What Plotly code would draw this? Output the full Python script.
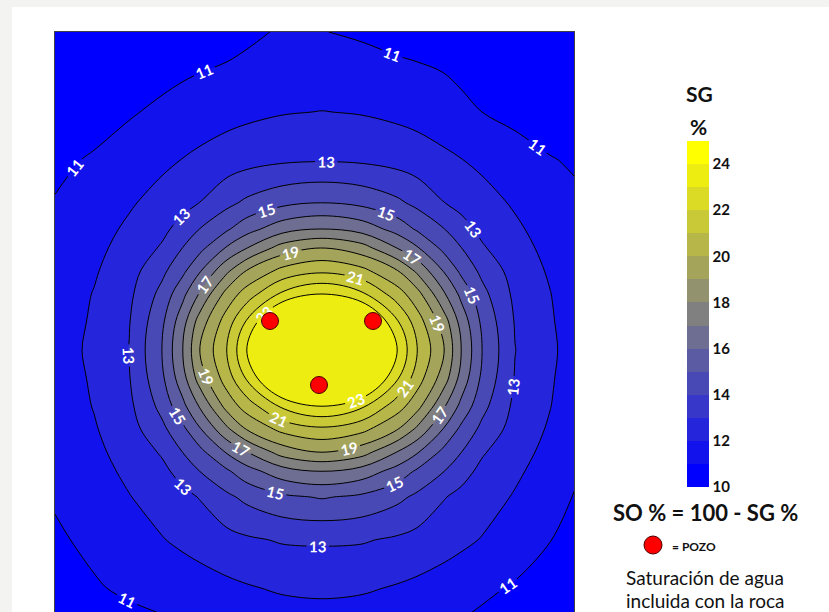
import plotly.graph_objects as go

# ---------------- data ----------------
x_pos = [0, 39, 74, 107, 128, 145, 172, 192, 227, 267, 307, 342, 362, 389, 406, 427, 460, 495, 520]
y_pos = [0, 40, 80, 128, 171, 197, 216, 239, 262, 290, 318, 346, 374, 397, 420, 439, 465, 508, 556, 600]

sg_rows = [
    [9.88, 10.04, 10.21, 10.37, 10.47, 10.54, 10.65, 10.85, 11.08, 11.02, 10.90, 10.71, 10.65, 10.54, 10.47, 10.37, 10.21, 10.04, 9.88],
    [10.12, 10.32, 10.54, 10.75, 10.89, 10.99, 11.12, 11.20, 11.30, 11.35, 11.30, 11.20, 11.12, 10.99, 10.85, 10.65, 10.45, 10.28, 10.10],
    [10.37, 10.61, 10.91, 11.18, 11.35, 11.48, 11.67, 11.78, 11.94, 12.02, 11.94, 11.78, 11.67, 11.42, 11.20, 11.00, 10.75, 10.55, 10.40],
    [10.80, 11.10, 11.42, 11.78, 12.03, 12.21, 12.48, 12.66, 12.85, 12.92, 12.85, 12.66, 12.48, 12.21, 12.03, 11.78, 11.39, 11.05, 10.90],
    [11.05, 11.40, 11.88, 12.38, 12.72, 13.02, 13.75, 14.21, 14.76, 15.02, 14.76, 14.21, 13.75, 13.02, 12.72, 12.38, 11.88, 11.40, 11.15],
    [11.20, 11.60, 12.17, 12.77, 13.36, 14.02, 14.87, 15.62, 16.59, 17.02, 16.59, 15.62, 14.87, 14.02, 13.36, 12.77, 12.17, 11.57, 11.20],
    [11.26, 11.75, 12.36, 13.11, 14.03, 14.72, 16.11, 16.99, 18.43, 19.02, 18.43, 16.99, 16.11, 14.72, 14.03, 13.11, 12.36, 11.73, 11.25],
    [11.36, 11.90, 12.59, 13.76, 14.79, 15.93, 17.82, 19.08, 20.30, 20.82, 20.30, 19.08, 17.82, 15.93, 14.79, 13.76, 12.59, 11.89, 11.33],
    [11.44, 12.04, 12.78, 14.31, 15.75, 17.12, 19.38, 20.48, 22.18, 23.02, 22.18, 20.48, 19.38, 17.12, 15.75, 14.31, 12.78, 12.03, 11.42],
    [11.50, 12.12, 12.94, 14.81, 16.66, 18.49, 20.51, 22.15, 25.02, 26.75, 25.02, 22.15, 20.51, 18.49, 16.66, 14.81, 12.94, 12.12, 11.49],
    [11.57, 12.19, 13.02, 15.02, 17.02, 19.02, 21.02, 23.02, 26.50, 30.50, 26.50, 23.02, 21.02, 19.02, 17.02, 15.02, 13.02, 12.19, 11.57],
    [11.50, 12.12, 12.94, 14.81, 16.66, 18.49, 20.51, 22.15, 25.02, 26.75, 25.02, 22.15, 20.51, 18.49, 16.66, 14.81, 12.94, 12.12, 11.49],
    [11.44, 12.04, 12.78, 14.31, 15.75, 17.12, 19.38, 20.48, 22.18, 23.02, 22.18, 20.48, 19.38, 17.12, 15.75, 14.31, 12.78, 12.03, 11.42],
    [11.38, 11.92, 12.59, 13.76, 14.79, 15.93, 17.82, 19.08, 20.30, 20.82, 20.30, 19.08, 17.82, 15.93, 14.79, 13.76, 12.59, 11.89, 11.33],
    [11.30, 11.78, 12.38, 13.11, 14.03, 14.72, 16.11, 16.99, 18.43, 19.02, 18.43, 16.99, 16.11, 14.72, 14.03, 13.11, 12.36, 11.73, 11.21],
    [11.22, 11.65, 12.20, 12.77, 13.36, 14.02, 14.87, 15.62, 16.59, 17.02, 16.59, 15.62, 14.87, 14.02, 13.36, 12.77, 12.17, 11.57, 11.11],
    [11.08, 11.48, 11.96, 12.42, 12.76, 13.05, 13.80, 14.25, 14.80, 15.08, 14.80, 14.25, 13.80, 13.05, 12.76, 12.42, 11.92, 11.36, 10.95],
    [10.88, 11.18, 11.56, 11.95, 12.20, 12.40, 12.68, 12.86, 13.08, 13.12, 13.08, 12.86, 12.68, 12.40, 12.20, 11.95, 11.50, 11.02, 10.68],
    [10.62, 10.92, 11.14, 11.30, 11.42, 11.55, 11.78, 11.92, 12.12, 12.20, 12.12, 11.92, 11.78, 11.55, 11.40, 11.18, 10.91, 10.61, 10.37],
    [10.25, 10.48, 10.66, 10.80, 10.90, 10.99, 11.12, 11.22, 11.32, 11.38, 11.32, 11.22, 11.12, 10.97, 10.85, 10.71, 10.50, 10.28, 10.08],
]

wells_x = [215, 318, 264]
wells_y = [289, 289, 353]

level_min, level_max = 10, 25
odd_line_range = (11, 23)
even_line_range = (12, 22)
cbar_ticks = [10, 12, 14, 16, 18, 20, 22, 24]

# ---------------- styling ----------------
W, H = 829, 612
ML, MR, MT, MB = 55, 255, 32, 0
PW, PH = W - ML - MR, H - MT - MB

def px(x):
    return (x - ML) / PW

def py(y):
    return (H - MB - y) / PH

stops = [(0.0, (0, 0, 255)), (0.5, (128, 128, 128)), (1.0, (255, 255, 0))]

def col(t):
    for (t0, c0), (t1, c1) in zip(stops[:-1], stops[1:]):
        if t <= t1:
            f = (t - t0) / (t1 - t0)
            return "rgb(%d,%d,%d)" % tuple(round(a + (b - a) * f) for a, b in zip(c0, c1))
    return "rgb(255,255,0)"

n_bands = level_max - level_min  # 15 bands 10..25
band_cols = [col(k / (n_bands - 1)) for k in range(n_bands)]
# fill trace: levels 11..23, 14 regions (everything above 23 gets the 23-24 colour)
fill_scale = [[k / (n_bands - 2), band_cols[k]] for k in range(n_bands - 1)]
# stepped scale for the colour key
key_scale = []
for k in range(n_bands):
    key_scale.append([k / n_bands, band_cols[k]])
    key_scale.append([(k + 1) / n_bands, band_cols[k]])

FONT = "Lato"
INK = "#111111"

fig = go.Figure()

fig.add_trace(go.Contour(
    x=x_pos, y=y_pos, z=sg_rows,
    contours=dict(start=11, end=23, size=1, coloring="fill", showlines=False),
    colorscale=fill_scale, showscale=False, hoverinfo="skip",
    line=dict(width=0),
))

fig.add_trace(go.Contour(
    x=x_pos, y=y_pos, z=sg_rows,
    contours=dict(start=even_line_range[0], end=even_line_range[1], size=2, coloring="none"),
    line=dict(color="black", width=1), showscale=False, hoverinfo="skip",
))

# odd (labelled) lines; the level list is extended downward (levels below the data
# produce no lines) so that plotly places several labels along each line
fig.add_trace(go.Contour(
    x=x_pos, y=y_pos, z=sg_rows,
    contours=dict(start=odd_line_range[0] - 2 * 150, end=odd_line_range[1], size=2, coloring="none",
                  showlabels=True,
                  labelfont=dict(color="white", size=15, family=FONT, weight="bold")),
    line=dict(color="black", width=1), showscale=False, hoverinfo="skip",
))

# colour key (full 10-25 scale), drawn from an off-screen heatmap
fig.add_trace(go.Heatmap(
    x=[-2000, -1990], y=[-2000, -1990], z=[[level_min, level_max], [level_min, level_max]],
    zmin=level_min, zmax=level_max, colorscale=key_scale, showscale=True, hoverinfo="skip",
    colorbar=dict(
        x=px(687), xanchor="left", xpad=0,
        y=py(314), yanchor="middle", ypad=0,
        len=346, lenmode="pixels", thickness=22, thicknessmode="pixels",
        outlinewidth=0, ticks="", tickvals=cbar_ticks,
        tickfont=dict(family=FONT, size=15, color=INK, weight="bold"),
    ),
))

fig.add_trace(go.Scatter(
    x=wells_x, y=wells_y, mode="markers",
    marker=dict(size=17, color="#ff0000", line=dict(color="#4a0000", width=1)),
    hoverinfo="skip", showlegend=False,
))

annotations = [
    dict(text="<b>SG</b>", x=px(699), y=py(93), size=21),
    dict(text="<b>%</b>", x=px(698), y=py(126), size=21),
    dict(text="<b>SO % = 100 - SG %</b>", x=px(705), y=py(512), size=22),
    dict(text="Saturación de agua", x=px(705), y=py(577), size=19),
    dict(text="incluida con la roca", x=px(705), y=py(600), size=19),
]
ann = [dict(text=a["text"], x=a["x"], y=a["y"], xref="paper", yref="paper",
            xanchor="center", yanchor="middle", showarrow=False,
            font=dict(family=FONT, size=a["size"], color=INK)) for a in annotations]
ann.append(dict(text="<b>= POZO</b>", x=px(670), y=py(546), xref="paper", yref="paper",
                xanchor="left", yanchor="middle", showarrow=False,
                font=dict(family=FONT, size=12, color=INK)))

shapes = [
    dict(type="rect", xref="paper", yref="paper", x0=px(12), x1=px(835), y0=py(620), y1=py(7),
         fillcolor="white", line=dict(width=0), layer="below"),
    dict(type="circle", xref="paper", yref="paper", x0=px(644), x1=px(662), y0=py(554), y1=py(536),
         fillcolor="#ff0000", line=dict(color="#4a0000", width=1)),
]

fig.update_layout(
    width=W, height=H,
    margin=dict(l=ML, r=MR, t=MT, b=MB, pad=0),
    paper_bgcolor="#f3f3f1", plot_bgcolor="white",
    showlegend=False,
    annotations=ann, shapes=shapes,
    xaxis=dict(range=[0, PW], side="top", showline=True, linecolor="#404040", linewidth=1,
               mirror=False, showgrid=False, zeroline=False, showticklabels=False, ticks=""),
    yaxis=dict(range=[PH, 0], showline=True, linecolor="#404040", linewidth=1,
               mirror=True, showgrid=False, zeroline=False, showticklabels=False, ticks=""),
)

fig.write_html("out.html", config={"displayModeBar": False},
               post_script="document.body.style.margin='0';document.body.style.overflow='hidden';")
